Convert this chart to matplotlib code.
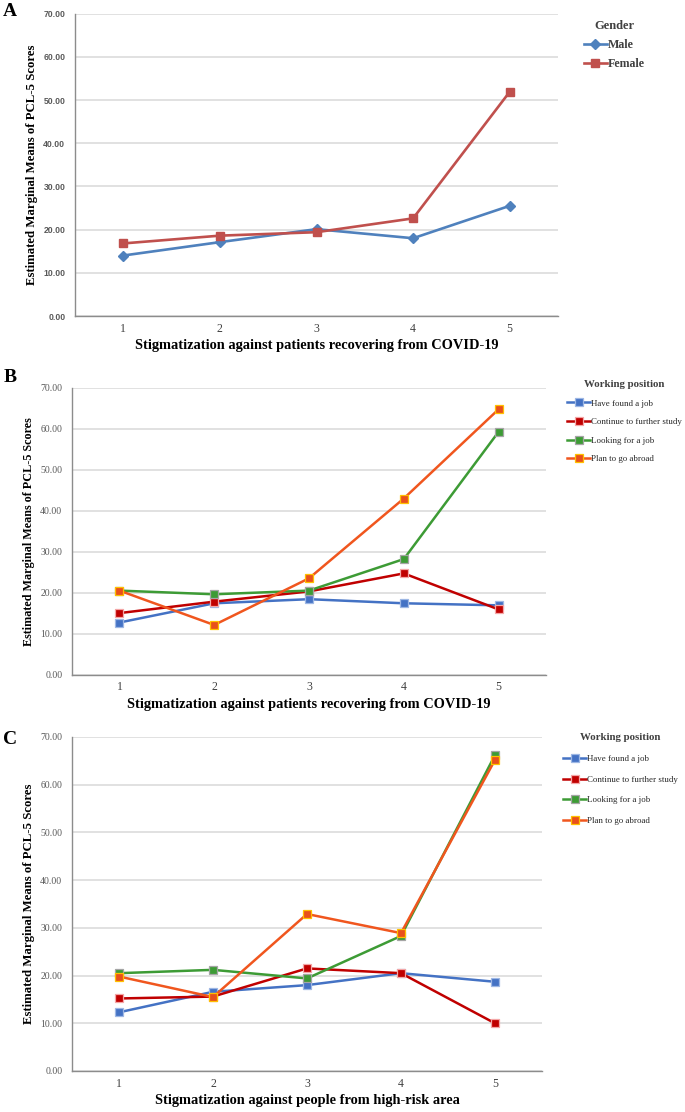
import matplotlib
matplotlib.use("Agg")
import matplotlib.pyplot as plt
from matplotlib.ticker import FormatStrFormatter

# ---------------- data ----------------
levels = [1, 2, 3, 4, 5]

# Panel A
gender_labels = ["Male", "Female"]
a_male = [14.0, 17.1, 20.1, 18.0, 25.5]
a_female = [16.8, 18.6, 19.4, 22.6, 51.9]

# Panels B and C
position_labels = ["Have found a job", "Continue to further study",
                   "Looking for a job", "Plan to go abroad"]
b_found = [12.7, 17.4, 18.4, 17.4, 16.9]
b_study = [15.0, 17.8, 20.3, 24.7, 15.9]
b_looking = [20.5, 19.6, 20.5, 28.2, 59.3]
b_abroad = [20.5, 12.1, 23.5, 43.0, 64.8]

c_found = [12.3, 16.6, 18.0, 20.5, 18.7]
c_study = [15.2, 15.6, 21.5, 20.5, 10.0]
c_looking = [20.5, 21.2, 19.4, 28.3, 66.2]
c_abroad = [19.8, 15.5, 32.9, 28.9, 65.2]

yticks = [0, 10, 20, 30, 40, 50, 60, 70]
ylabel = "Estimated Marginal Means of PCL-5 Scores"
xlabel_ab = "Stigmatization against patients recovering from COVID-19"
xlabel_c = "Stigmatization against people from high-risk area"

# ---------------- style ----------------
SERIF = ["Liberation Serif", "DejaVu Serif"]
W, H = 685, 1112
fig = plt.figure(figsize=(W / 100, H / 100), dpi=100)


def px_axes(l, t, r, b):
    return fig.add_axes([l / W, 1 - b / H, (r - l) / W, (b - t) / H])


def style_axes(ax, tick_family, tick_weight, tick_size):
    ax.set_xlim(0.5, 5.5)
    ax.set_ylim(0, 70)
    ax.set_yticks(yticks)
    ax.set_xticks(levels)
    ax.yaxis.set_major_formatter(FormatStrFormatter("%.2f"))
    ax.grid(axis="y", color="#d9d9d9", linewidth=1.1)
    ax.set_axisbelow(True)
    for s in ["top", "right"]:
        ax.spines[s].set_visible(False)
    for s in ["left", "bottom"]:
        ax.spines[s].set_color("#8c8c8c")
        ax.spines[s].set_linewidth(1.0)
    ax.tick_params(length=0)
    ax.tick_params(axis="y", pad=7)
    ax.tick_params(axis="x", pad=5)
    for t in ax.get_yticklabels():
        t.set_family(tick_family)
        t.set_fontweight(tick_weight)
        t.set_fontsize(tick_size)
        t.set_color("#595959")
    for t in ax.get_xticklabels():
        t.set_family(SERIF)
        t.set_fontsize(8.5)
        t.set_color("#404040")


def style_legend(leg, text_color):
    leg.get_title().set_color("#404040")
    for t in leg.get_texts():
        t.set_color(text_color)


# ---------------- Panel A ----------------
axA = px_axes(75, 13.6, 558, 316)
axA.plot(levels, a_male, color="#4f81bd", lw=1.9, marker="D", ms=5,
         mfc="#4f81bd", mec="#4f81bd", label=gender_labels[0])
axA.plot(levels, a_female, color="#c0504d", lw=1.9, marker="s", ms=6.3,
         mfc="#c0504d", mec="#c0504d", label=gender_labels[1])
style_axes(axA, ["Liberation Sans", "DejaVu Sans"], "bold", 6.2)
axA.set_ylabel(ylabel, family=SERIF, fontweight="bold", fontsize=9.2, labelpad=4)
axA.set_xlabel(xlabel_ab, family=SERIF, fontweight="bold", fontsize=10.4, labelpad=3)
legA = axA.legend(loc="upper left", bbox_to_anchor=(578 / W, 1 - 14 / H),
                  bbox_transform=fig.transFigure, frameon=False,
                  title="Gender", handlelength=1.9, handletextpad=0.05,
                  labelspacing=0.6, borderpad=0,
                  prop={"family": SERIF, "weight": "bold", "size": 8.6})
legA.get_title().set_fontproperties({"family": SERIF, "weight": "bold", "size": 9})
style_legend(legA, "#404040")

# ---------------- Panels B and C ----------------
series_style = [
    dict(color="#4472c4", mfc="#4472c4", mec="#9db7e4"),
    dict(color="#c00000", mfc="#c00000", mec="#f4a6a6"),
    dict(color="#3d9b35", mfc="#3d9b35", mec="#a5a5a5"),
    dict(color="#f0561e", mfc="#e8501c", mec="#ffc000"),
]


def draw_positions(ax, data):
    for vals, lab, st in zip(data, position_labels, series_style):
        ax.plot(levels, vals, lw=1.8, marker="s", ms=6.3, mew=0.9,
                label=lab, **st)


axB = px_axes(72, 388, 546, 674.5)
draw_positions(axB, [b_found, b_study, b_looking, b_abroad])
style_axes(axB, SERIF, "normal", 7)
axB.set_ylabel(ylabel, family=SERIF, fontweight="bold", fontsize=8.7, labelpad=4)
axB.set_xlabel(xlabel_ab, family=SERIF, fontweight="bold", fontsize=10.4, labelpad=3)
legB = axB.legend(loc="upper left", bbox_to_anchor=(563 / W, 1 - 375.5 / H),
                  bbox_transform=fig.transFigure, frameon=False,
                  title="Working position", handlelength=2.5, handletextpad=0.15,
                  labelspacing=1.17, borderpad=0,
                  prop={"family": SERIF, "size": 6.4})
legB.get_title().set_fontproperties({"family": SERIF, "weight": "bold", "size": 7.8})
style_legend(legB, "#262626")

axC = px_axes(72, 737, 542, 1071)
draw_positions(axC, [c_found, c_study, c_looking, c_abroad])
style_axes(axC, SERIF, "normal", 7)
axC.set_ylabel(ylabel, family=SERIF, fontweight="bold", fontsize=9.2, labelpad=4)
axC.set_xlabel(xlabel_c, family=SERIF, fontweight="bold", fontsize=10.4, labelpad=3)
legC = axC.legend(loc="upper left", bbox_to_anchor=(559 / W, 1 - 728.5 / H),
                  bbox_transform=fig.transFigure, frameon=False,
                  title="Working position", handlelength=2.5, handletextpad=0.15,
                  labelspacing=1.42, borderpad=0,
                  prop={"family": SERIF, "size": 6.4})
legC.get_title().set_fontproperties({"family": SERIF, "weight": "bold", "size": 7.8})
style_legend(legC, "#262626")

# ---------------- panel letters ----------------
for letter, y in [("A", 11), ("B", 378), ("C", 740)]:
    fig.text(10 / W, 1 - y / H, letter, family=SERIF, fontweight="bold",
             fontsize=14, ha="center", va="center")

fig.savefig("out.png", dpi=100, facecolor="white")
